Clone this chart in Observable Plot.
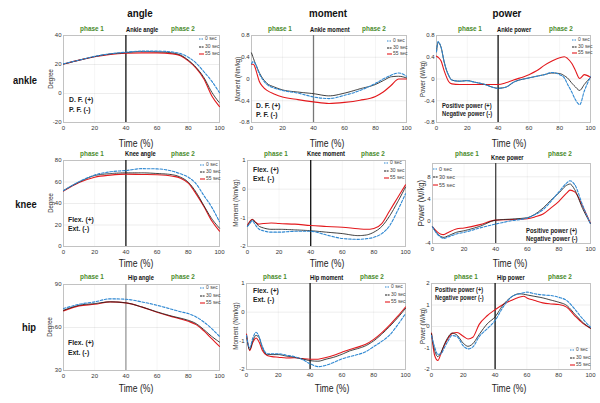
<!DOCTYPE html>
<html><head><meta charset="utf-8">
<script src="https://cdn.jsdelivr.net/npm/d3@7"></script>
<script src="https://cdn.jsdelivr.net/npm/@observablehq/plot@0.6"></script>
<style>
body{margin:0;background:#fff;}
#chart{position:relative;width:600px;height:403px;overflow:hidden;font-family:"Liberation Sans",Arial,sans-serif;background:#fff;}
.lbl{position:absolute;white-space:nowrap;line-height:1;}
#chart svg{position:absolute;overflow:visible;}
</style></head><body><div id="chart"></div>
<script>
// ---- series ----
const series = ["0 sec", "30 sec", "55 sec"];
const seriesColors = ["#2f88d2", "#1c1c1c", "#e3191d"];
const xTicks = [0, 20, 40, 60, 80, 100];

// ---- angle data ----
const tAngle = [0, 10, 20, 30, 40, 50, 60, 70, 75, 80, 85, 90, 95, 100];
const ankleAngle0  = [20.5, 23, 25.6, 27.4, 28.5, 29.2, 29.2, 28.6, 27.5, 25, 21, 15, 8.5, 0.5];
const ankleAngle30 = [20.3, 23, 25.5, 27.3, 28.2, 29, 28.8, 28, 26.5, 23, 18, 11, 1, -6.5];
const ankleAngle55 = [20.3, 23, 25.3, 27, 27.8, 28, 28, 27.3, 26, 22.5, 17.5, 10, -1.5, -9];
const kneeAngle0  = [52, 60.3, 66.5, 69.5, 70.7, 72.4, 72.2, 70, 67.6, 64.5, 58.3, 47.4, 36.6, 23];
const kneeAngle30 = [52, 60, 66, 67.8, 68.5, 68.5, 67.9, 66.7, 64.5, 59.8, 50.5, 38, 26, 17];
const kneeAngle55 = [51.5, 59.5, 64.5, 66.4, 67.3, 67, 66.7, 65.4, 63.6, 59, 49, 37.2, 24, 14.3];
const hipAngle0  = [73.2, 76.2, 77.9, 80, 79.7, 77.9, 75.5, 72.5, 71, 69.7, 67.4, 63.8, 59.2, 53.8];
const hipAngle30 = [72, 75.5, 76.7, 77.9, 77.2, 74.4, 70.9, 67.8, 66.5, 65, 62.7, 58.5, 53.8, 49.8];
const hipAngle55 = [71.6, 75.1, 76.2, 77.9, 77.2, 74.4, 70.6, 67.4, 66, 64.3, 62, 57.6, 52.2, 46.8];

// ---- moment data ----
const tAnkleMoment = [0, 1, 2, 3, 5, 7, 10, 15, 20, 30, 40, 50, 60, 70, 80, 85, 90, 95, 100];
const ankleMoment0  = [0.28, 0.32, 0.3, 0.25, 0.1, 0.0, -0.1, -0.17, -0.21, -0.26, -0.33, -0.36, -0.3, -0.21, -0.08, 0.0, 0.07, 0.11, 0.05];
const ankleMoment30 = [0.48, 0.4, 0.32, 0.25, 0.12, 0.02, -0.08, -0.15, -0.2, -0.24, -0.27, -0.31, -0.26, -0.18, -0.1, -0.03, 0.04, 0.05, 0.02];
const ankleMoment55 = [0.27, 0.27, 0.24, 0.15, -0.04, -0.13, -0.21, -0.28, -0.33, -0.38, -0.42, -0.45, -0.43, -0.39, -0.32, -0.24, -0.12, 0.0, 0.0];
const tKneeMoment = [0, 1.5, 3, 5, 7, 10, 15, 20, 30, 40, 50, 60, 70, 75, 80, 85, 90, 95, 100];
const kneeMoment0  = [-1.3, -1.2, -1.1, -1.25, -1.38, -1.45, -1.5, -1.5, -1.47, -1.47, -1.6, -1.72, -1.75, -1.73, -1.68, -1.55, -1.27, -0.75, -0.16];
const kneeMoment30 = [-1.3, -1.15, -1.07, -1.15, -1.28, -1.35, -1.4, -1.4, -1.42, -1.45, -1.5, -1.55, -1.62, -1.6, -1.5, -1.3, -0.93, -0.45, 0.07];
const kneeMoment55 = [-1.25, -1.12, -1.05, -1.15, -1.22, -1.2, -1.18, -1.2, -1.22, -1.27, -1.3, -1.33, -1.38, -1.4, -1.37, -1.2, -0.75, -0.3, 0.15];
const tHipMoment = [0, 2, 4, 6, 8, 10, 13, 16, 20, 25, 30, 35, 40, 45, 50, 55, 60, 65, 70, 75, 80, 85, 90, 95, 100];
const hipMoment0  = [-0.81, -1.24, -0.9, -0.7, -0.87, -1.2, -1.45, -1.45, -1.45, -1.5, -1.55, -1.65, -1.8, -1.9, -1.85, -1.75, -1.63, -1.55, -1.48, -1.38, -1.2, -1.02, -0.8, -0.45, -0.05];
const hipMoment30 = [-0.81, -1.31, -0.99, -0.81, -0.9, -1.24, -1.48, -1.48, -1.48, -1.53, -1.57, -1.63, -1.69, -1.71, -1.64, -1.57, -1.47, -1.35, -1.27, -1.17, -1.0, -0.77, -0.5, -0.2, 0.13];
const hipMoment55 = [-0.76, -1.34, -1.05, -0.9, -1.05, -1.34, -1.51, -1.55, -1.57, -1.6, -1.59, -1.62, -1.64, -1.64, -1.58, -1.5, -1.4, -1.3, -1.22, -1.12, -0.95, -0.72, -0.45, -0.15, 0.18];

// ---- power data ----
const tAnklePower = [0, 1, 3, 5, 8, 10, 15, 20, 25, 30, 40, 45, 50, 60, 65, 70, 75, 80, 83, 85, 88, 90, 93, 96, 100];
const anklePower0  = [0.5, 0.69, 0.58, 0.31, 0.06, -0.02, -0.04, -0.03, -0.06, -0.09, -0.17, -0.15, -0.06, 0.02, 0.05, 0.08, 0.12, 0.08, 0.02, -0.09, -0.25, -0.37, -0.47, -0.22, 0.04];
const anklePower30 = [0.5, 0.67, 0.58, 0.31, 0.06, -0.02, -0.04, -0.03, -0.06, -0.09, -0.17, -0.15, -0.06, 0.02, 0.05, 0.08, 0.11, 0.1, 0.06, 0.02, -0.08, -0.14, -0.21, -0.1, 0.03];
const anklePower55 = [0.42, 0.4, 0.33, 0.15, -0.05, -0.09, -0.1, -0.1, -0.1, -0.1, -0.1, -0.07, -0.02, 0.08, 0.15, 0.25, 0.33, 0.39, 0.41, 0.38, 0.28, 0.17, 0.01, 0.08, 0.03];
const tKneePower = [0, 3, 5, 7, 10, 15, 20, 30, 40, 50, 60, 65, 70, 75, 80, 85, 87, 90, 95, 100];
const kneePower0  = [-1.0, -2.3, -2.8, -3.1, -2.8, -2.3, -2.0, -1.2, -0.5, 0.1, 0.6, 1.2, 2.1, 3.6, 5.3, 6.9, 7.3, 6.6, 2.9, -0.5];
const kneePower30 = [-1.0, -2.2, -2.7, -2.9, -2.6, -2.0, -1.7, -0.9, 0.2, 0.4, 0.65, 1.3, 2.4, 3.8, 5.1, 6.5, 6.7, 5.7, 2.3, -0.4];
const kneePower55 = [-1.0, -1.9, -2.3, -2.4, -2.0, -1.4, -1.2, -0.6, 0.2, 0.3, 0.45, 0.8, 1.3, 2.4, 3.6, 5.1, 5.6, 5.3, 2.7, -0.4];
const tHipPower = [0, 2, 4, 6, 8, 10, 13, 16, 20, 23, 26, 30, 35, 40, 45, 50, 55, 58, 60, 65, 70, 75, 80, 85, 90, 95, 100];
const hipPower0  = [-0.42, -0.96, -1.3, -1.27, -1.0, -0.73, -0.42, -0.47, -0.9, -1.04, -0.95, -0.47, -0.11, 0.28, 0.9, 1.36, 1.52, 1.57, 1.6, 1.52, 1.47, 1.44, 1.36, 1.21, 0.82, 0.36, -0.03];
const hipPower30 = [-0.34, -1.12, -1.4, -1.2, -0.85, -0.55, -0.31, -0.4, -0.78, -0.92, -0.8, -0.37, 0.12, 0.45, 1.0, 1.36, 1.52, 1.5, 1.47, 1.4, 1.33, 1.23, 1.13, 0.98, 0.59, 0.2, -0.08];
const hipPower55 = [-0.31, -1.35, -1.58, -1.25, -0.88, -0.6, -0.32, -0.28, -0.45, -0.58, -0.5, 0.1, 0.5, 0.78, 1.02, 1.21, 1.36, 1.41, 1.33, 1.21, 1.1, 1.05, 1.02, 0.9, 0.51, 0.16, -0.08];

// ---- labels ----
const columnTitles = ["angle", "moment", "power"];
const rowTitles = ["ankle", "knee", "hip"];
const panelTitles = [["Ankle angle", "Ankle moment", "Ankle power"], ["Knee angle", "Knee moment", "Knee power"], ["Hip angle", "Hip moment", "Hip power"]];
const yLabels = ["Degree", "Moment (Nm/kg)", "Power (W/kg)"];
const notesDF = ["D. F. (+)", "P. F. (-)"];
const notesFlex = ["Flex. (+)", "Ext. (-)"];
const notesPower = ["Positive power (+)", "Negative power (-)"];
const phaseLabels = ["phase 1", "phase 2"];
const xLabel = "Time (%)";

// ---- layout (page pixels) ----
const panels = [
  {t: tAngle, v: [ankleAngle0, ankleAngle30, ankleAngle55], domain: [-20, 40], ticks: [-20, 0, 20, 40],
   L: 63, R: 219, T: 35, B: 122, r: 0, c: 0, rule: "#111", titleX: 126, titleY: 29.5, phaseY: 28.5,
   yl: [50, 7], notes: notesDF, note: [69, 100, 10, 8], leg: [199, 39.3, 7.5, 5.5], time: [135.5, 142.5]},
  {t: tAnkleMoment, v: [ankleMoment0, ankleMoment30, ankleMoment55], domain: [-0.8, 0.8], ticks: [-0.8, -0.4, 0, 0.4, 0.8],
   L: 251, R: 406, T: 35, B: 122, r: 0, c: 1, rule: "#777", titleX: 310, titleY: 30, phaseY: 29,
   yl: [236.7, 7], notes: notesDF, note: [256, 106, 9, 8], leg: [386.5, 40.7, 6.8, 5.5], time: [326.7, 142.5]},
  {t: tAnklePower, v: [anklePower0, anklePower30, anklePower55], domain: [-0.8, 0.8], ticks: [-0.8, -0.4, 0, 0.4, 0.8],
   L: 436, R: 590, T: 35, B: 122, r: 0, c: 2, rule: "#111", titleX: 496.7, titleY: 30, phaseY: 29,
   yl: [422.3, 7], notes: notesPower, note: [441.7, 106.3, 8, 6.8], leg: [571.5, 40, 6.7, 5.5], time: [509.3, 142.5]},
  {t: tAngle, v: [kneeAngle0, kneeAngle30, kneeAngle55], domain: [0, 80], ticks: [0, 20, 40, 60, 80],
   L: 63, R: 219, T: 160, B: 246, r: 1, c: 0, rule: "#111", titleX: 125, titleY: 154.3, phaseY: 154,
   yl: [50, 7], notes: notesFlex, note: [68, 220, 9, 8], leg: [200, 165, 7, 5.5], time: [135.5, 263]},
  {t: tKneeMoment, v: [kneeMoment0, kneeMoment30, kneeMoment55], domain: [-2, 1], ticks: [-2, -1, 0, 1],
   L: 247, R: 405, T: 160, B: 246, r: 1, c: 1, rule: "#111", titleX: 306.7, titleY: 154.3, phaseY: 154,
   yl: [236, 7.5], notes: notesFlex, note: [252.7, 170, 9.3, 8], leg: [384, 163.3, 7.5, 5.5], time: [327.3, 263]},
  {t: tKneePower, v: [kneePower0, kneePower30, kneePower55], domain: [-4, 10.4], ticks: [-4, 0, 4, 8],
   L: 432, R: 590, T: 163, B: 243, r: 1, c: 2, rule: "#444", titleX: 490.7, titleY: 158.3, phaseY: 154.3,
   yl: [420.7, 9], notes: notesPower, note: [526, 230, 8.4, 7], leg: [433, 169.3, 7.8, 6], time: [510, 263]},
  {t: tAngle, v: [hipAngle0, hipAngle30, hipAngle55], domain: [30, 90], ticks: [30, 60, 90],
   L: 63, R: 219, T: 284, B: 370, r: 2, c: 0, rule: "#999", titleX: 128.3, titleY: 278.3, phaseY: 276.7,
   yl: [49.3, 7], notes: notesFlex, note: [68, 343.3, 10, 8], leg: [200, 288.3, 7.5, 5.5], time: [135.5, 387.7]},
  {t: tHipMoment, v: [hipMoment0, hipMoment30, hipMoment55], domain: [-2, 1], ticks: [-2, -1, 0, 1],
   L: 246, R: 405, T: 283, B: 369, r: 2, c: 1, rule: "#111", titleX: 310, titleY: 278.3, phaseY: 276.7,
   yl: [236, 7.5], notes: notesFlex, note: [252.7, 290.7, 9.3, 8], leg: [385, 287.3, 7.5, 5.5], time: [332, 387.7]},
  {t: tHipPower, v: [hipPower0, hipPower30, hipPower55], domain: [-2, 2], ticks: [-2, -1, 0, 1, 2],
   L: 431, R: 590, T: 283, B: 369, r: 2, c: 2, rule: "#111", titleX: 496.7, titleY: 278, phaseY: 276.7,
   yl: [421.7, 7], notes: notesPower, note: [435, 290.3, 7.4, 6.6], leg: [570, 350, 7.5, 5.5], time: [509.3, 387.7]}
];
const phase1Frac = [0.184, 0.185, 0.22];
const phase2Frac = [0.77, 0.795, 0.81];
const styleBySeries = [
  {w: 1.1, dash: "2.6,1.6"},
  {w: 0.85, dash: "3.5,0.8,1,0.8"},
  {w: 1.1, dash: null}
];

const chart = document.getElementById("chart");
function label(text, x, y, o = {}) {
  const d = document.createElement("div");
  d.className = "lbl";
  d.textContent = text;
  d.style.left = x + "px";
  d.style.top = y + "px";
  d.style.fontSize = (o.size || 8) + "px";
  d.style.fontWeight = o.bold ? "bold" : "normal";
  d.style.color = o.color || "#111";
  const s = o.sx || 0.8;
  if (o.rotate) d.style.transform = `translate(-50%,-50%) rotate(-90deg) scaleX(${s})`;
  else if (o.anchor === "start") { d.style.transformOrigin = "0 50%"; d.style.transform = `translateY(-50%) scaleX(${s})`; }
  else d.style.transform = `translate(-50%,-50%) scaleX(${s})`;
  chart.appendChild(d);
}

const mL = 22, mR = 4, mT = 4, mB = 13;
panels.forEach(p => {
  const rows = [];
  p.v.forEach((vals, i) => vals.forEach((v, j) => rows.push({t: p.t[j], v, s: series[i]})));
  const order = [2, 1, 0];
  const svg = Plot.plot({
    width: p.R - p.L + mL + mR,
    height: p.B - p.T + mT + mB,
    marginLeft: mL, marginRight: mR, marginTop: mT, marginBottom: mB,
    x: {domain: [0, 100]},
    y: {domain: p.domain},
    style: {fontFamily: "Liberation Sans, Arial, sans-serif", color: "#333", background: "transparent", overflow: "visible"},
    marks: [
      Plot.gridY(p.ticks, {stroke: "#000", strokeOpacity: 0.07}),
      Plot.gridX([20, 40, 60, 80], {stroke: "#000", strokeOpacity: 0.04}),
      Plot.frame({stroke: "#c2c2c2"}),
      Plot.axisY(p.ticks, {tickSize: 0, tickPadding: 2, fontSize: 6, label: null, tickFormat: d => String(d)}),
      Plot.axisX(xTicks, {tickSize: 0, tickPadding: 3, fontSize: 6, label: null, tickFormat: d => String(d)}),
      Plot.ruleX([40], {stroke: p.rule, strokeWidth: 1.3}),
      ...order.map(i => Plot.line(rows.filter(r => r.s === series[i]), {
        x: "t", y: "v", stroke: seriesColors[i], strokeWidth: styleBySeries[i].w,
        strokeDasharray: styleBySeries[i].dash, curve: "monotone-x"
      }))
    ]
  });
  svg.style.left = (p.L - mL) + "px";
  svg.style.top = (p.T - mT) + "px";
  chart.appendChild(svg);

  const w = p.R - p.L;
  label(phaseLabels[0], p.L + phase1Frac[p.c] * w, p.phaseY, {size: 8, bold: true, color: "#4a8b2c"});
  label(phaseLabels[1], p.L + phase2Frac[p.c] * w, p.phaseY, {size: 8, bold: true, color: "#4a8b2c"});
  label(panelTitles[p.r][p.c], p.titleX, p.titleY, {size: 7.2, bold: true, anchor: "start", color: "#111", sx: 0.8});
  label(yLabels[p.c], p.yl[0], (p.T + p.B) / 2, {size: p.yl[1], rotate: true, color: "#333", sx: 0.85});
  label(xLabel, p.time[0], p.time[1], {size: 10.5, color: "#222", sx: 0.82});
  p.notes.forEach((n, k) => label(n, p.note[0], p.note[1] + k * p.note[2], {size: p.note[3], bold: true, anchor: "start", color: "#222", sx: 0.85}));
  const [lx, ly, ldy, ls] = p.leg;
  series.forEach((s, i) => {
    const yy = ly + i * ldy;
    const lg = d3.create("svg").attr("width", 6).attr("height", 4)
      .style("left", lx + "px").style("top", (yy - 2) + "px");
    lg.append("line").attr("x1", 0).attr("x2", 5).attr("y1", 2).attr("y2", 2)
      .attr("stroke", seriesColors[i]).attr("stroke-width", 1.1)
      .attr("stroke-dasharray", i === 0 ? "1.5,1" : i === 1 ? "2,0.6" : null);
    chart.appendChild(lg.node());
    label(s, lx + 6, yy, {size: ls, anchor: "start", color: "#444", sx: 0.9});
  });
});

[140, 328.3, 506.7].forEach((x, i) => label(columnTitles[i], x, 14, {size: 11.5, bold: true, color: "#111", sx: 0.85}));
[[24.5, 80], [26, 204], [29, 327]].forEach(([x, y], i) => label(rowTitles[i], x, y, {size: 11, bold: true, color: "#111", sx: 0.85}));
</script>
</body></html>
